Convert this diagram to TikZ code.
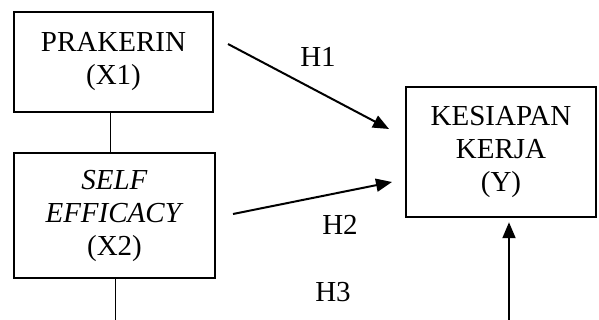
\documentclass[tikz,border=0pt]{standalone}
\usepackage{fontspec}
\setmainfont{Liberation Serif}
\usetikzlibrary{arrows.meta,calc}
\begin{document}
\begin{tikzpicture}[x=1pt,y=-1pt,
  box/.style={draw,line width=2.5pt,inner sep=0pt,align=center,font=\fontsize{29}{33}\selectfont},
  lbl/.style={font=\fontsize{29}{33}\selectfont,inner sep=0pt},
  thin/.style={line width=1pt},
  arr/.style={line width=2pt,-{Triangle[length=16pt,width=13pt]}}]
\useasboundingbox (0,0) rectangle (599,320);
\node[box,minimum width=199pt,minimum height=100pt] (X1) at (113.5,62) {PRAKERIN\\(X1)};
\node[box,minimum width=201pt,minimum height=125pt] (X2) at (114.5,215.5) {\textit{SELF}\\\textit{EFFICACY}\\(X2)};
\node[box,minimum width=190pt,minimum height=130pt] (Y) at (501,152) {KESIAPAN\\KERJA\\(Y)};
\node[lbl] (H1) at (318,57) {H1};
\node[lbl] (H2) at (340,225) {H2};
\node[lbl] (H3) at (333,292) {H3};
\coordinate (a1s) at (228,44);
\coordinate (a1e) at (389,129);
\coordinate (a2s) at (233,214);
\coordinate (a2e) at (392,182);
\coordinate (a3s) at (509,322);
\coordinate (x2end) at (115,320);
\draw[thin] ([xshift=-3.5pt]X1.south) -- ([xshift=-4.5pt]X2.north);
\draw[thin] ([xshift=0.5pt]X2.south) -- (x2end);
\draw[arr] (a1s) -- (a1e);
\draw[arr] (a2s) -- (a2e);
\draw[arr,shorten >=4pt] (a3s) -- (a3s |- Y.south);
\end{tikzpicture}
\end{document}
